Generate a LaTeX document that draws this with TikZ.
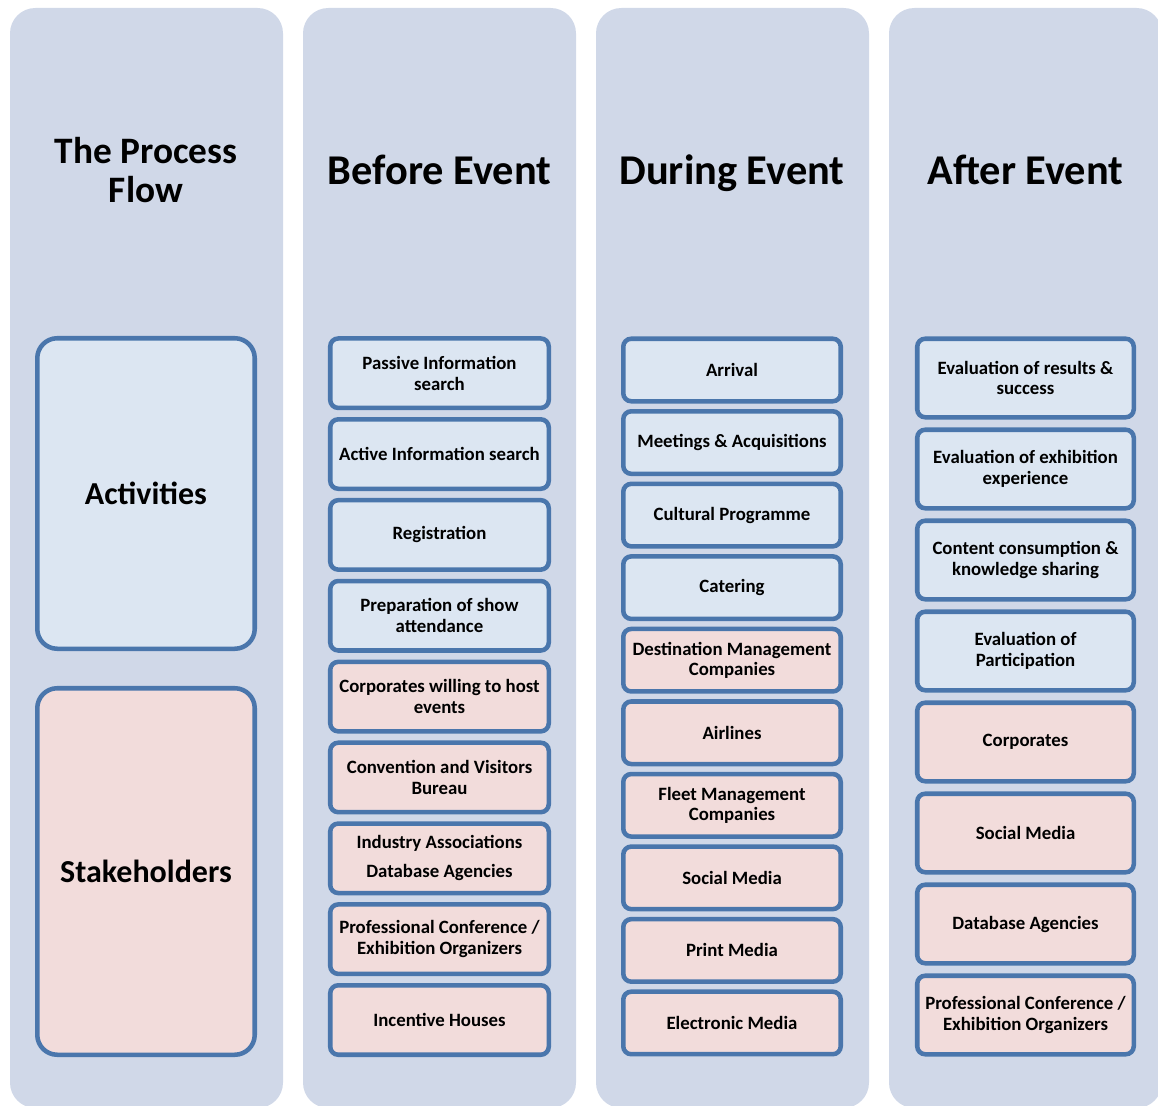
\documentclass[tikz,border=0pt]{standalone}
\usepackage{fontspec}
\setmainfont{Carlito}
\definecolor{colfill}{HTML}{D0D8E8}
\definecolor{actfill}{HTML}{DCE6F2}
\definecolor{stkfill}{HTML}{F2DCDB}
\definecolor{edge}{HTML}{4A76AC}
\begin{document}
\begin{tikzpicture}[x=0.75pt,y=-0.75pt,
  column/.style={fill=colfill,draw=none,rounded corners=19pt},
  bigbox/.style={draw=edge,line width=3.4pt,rounded corners=15pt,minimum width=163.1pt,font=\fontsize{24}{28}\selectfont\bfseries},
  smallbox/.style={draw=edge,line width=3.4pt,rounded corners=6pt,align=center,inner sep=2pt,font=\fontsize{14.1}{15.5}\selectfont\bfseries},
  actbox/.style={smallbox,fill=actfill},
  stkbox/.style={smallbox,fill=stkfill},
  bsize/.style={minimum width=163.9pt,minimum height=52.1pt},
  dsize/.style={minimum width=163.1pt,minimum height=46.9pt},
  asize/.style={minimum width=162.4pt,minimum height=58.9pt},
  title/.style={font=\fontsize{31.8}{34}\selectfont\bfseries,anchor=base}
]
\useasboundingbox (0,0) rectangle (1158,1106);
% columns
\fill[column] (10,8) rectangle (283,1108);
\fill[column] (303,8) rectangle (576,1108);
\fill[column] (596,8) rectangle (869,1108);
\fill[column] (889,8) rectangle (1162,1108);
% column titles
\node[font=\fontsize{28}{30}\selectfont\bfseries,align=center,anchor=base] (t0) at (146,203) {The Process\\Flow};
\node[title] (t1) at (439.5,185) {Before Event};
\node[title] (t2) at (732,185) {During Event};
\node[title] (t3) at (1025.5,185) {After Event};
% left boxes
\node[bigbox,fill=actfill,minimum height=232.9pt] (act) at (146,493.5) {Activities};
\node[bigbox,fill=stkfill,minimum height=274.9pt] (stk) at (146,871.5) {Stakeholders};
% before event
\node[actbox,bsize] (b1) at (439.5,373.2) {Passive Information\\search};
\node[actbox,bsize] (b2) at (439.5,454.05) {Active Information search};
\node[actbox,bsize] (b3) at (439.5,534.9) {Registration};
\node[actbox,bsize] (b4) at (439.5,615.75) {Preparation of show\\attendance};
\node[stkbox,bsize] (b5) at (439.5,696.6) {Corporates willing to host\\events};
\node[stkbox,bsize] (b6) at (439.5,777.45) {Convention and Visitors\\Bureau};
\node[stkbox,bsize] (b7) at (439.5,858.3) {Industry Associations\\[6pt]Database Agencies};
\node[stkbox,bsize] (b8) at (439.5,939.15) {Professional Conference /\\Exhibition Organizers};
\node[stkbox,bsize] (b9) at (439.5,1020) {Incentive Houses};
% during event
\node[actbox,dsize] (d1) at (732,370) {Arrival};
\node[actbox,dsize] (d2) at (732,442.55) {Meetings \& Acquisitions};
\node[actbox,dsize] (d3) at (732,515.1) {Cultural Programme};
\node[actbox,dsize] (d4) at (732,587.65) {Catering};
\node[stkbox,dsize] (d5) at (732,660.2) {Destination Management\\Companies};
\node[stkbox,dsize] (d6) at (732,732.75) {Airlines};
\node[stkbox,dsize] (d7) at (732,805.3) {Fleet Management\\Companies};
\node[stkbox,dsize] (d8) at (732,877.85) {Social Media};
\node[stkbox,dsize] (d9) at (732,950.4) {Print Media};
\node[stkbox,dsize] (d10) at (732,1022.95) {Electronic Media};
% after event
\node[actbox,asize] (a1) at (1025.5,378) {Evaluation of results \&\\success};
\node[actbox,asize] (a2) at (1025.5,469) {Evaluation of exhibition\\experience};
\node[actbox,asize] (a3) at (1025.5,560) {Content consumption \&\\knowledge sharing};
\node[actbox,asize] (a4) at (1025.5,651) {Evaluation of\\Participation};
\node[stkbox,asize] (a5) at (1025.5,742) {Corporates};
\node[stkbox,asize] (a6) at (1025.5,833) {Social Media};
\node[stkbox,asize] (a7) at (1025.5,924) {Database Agencies};
\node[stkbox,asize] (a8) at (1025.5,1015) {Professional Conference /\\Exhibition Organizers};
\end{tikzpicture}
\end{document}
